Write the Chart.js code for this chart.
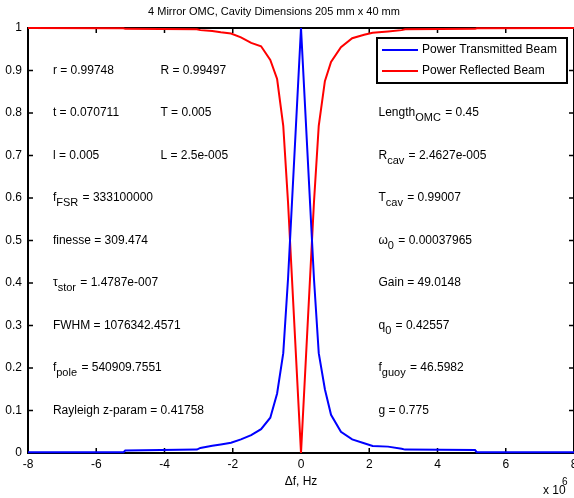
<!DOCTYPE html>
<html>
<head>
<meta charset="utf-8">
<script src="https://cdn.jsdelivr.net/npm/chart.js@4.4.0/dist/chart.umd.min.js"></script>
<style>
  html, body { margin: 0; padding: 0; background: #fff; }
</style>
</head>
<body>
<canvas id="omcChart" width="574" height="498"></canvas>
<script>
// frequency offset, units of 1e6 Hz
const freq = [-8, -5.2, -5.15, -3.05, -2.95, -2.6, -2.35, -2.05, -1.76, -1.46, -1.17, -0.9, -0.7, -0.52, -0.38, 0,
              0.38, 0.52, 0.7, 0.88, 1.17, 1.5, 1.85, 2.1, 2.55, 2.95, 3.05, 5.1, 5.15, 8];
const transmitted = [0.002, 0.002, 0.006, 0.008, 0.012, 0.017, 0.02, 0.024, 0.032, 0.042, 0.056, 0.083, 0.14, 0.235, 0.41, 1.0,
                     0.41, 0.235, 0.15, 0.09, 0.05, 0.032, 0.023, 0.0165, 0.015, 0.01, 0.008, 0.007, 0.002, 0.002];
const reflected = [1, 0.9995, 0.998, 0.997, 0.995, 0.993, 0.99, 0.987, 0.978, 0.965, 0.957, 0.925, 0.88, 0.77, 0.59, 0,
                   0.59, 0.77, 0.875, 0.92, 0.955, 0.976, 0.984, 0.989, 0.992, 0.995, 0.997, 0.998, 0.9995, 1];
const seriesNames = ['Power Transmitted Beam', 'Power Reflected Beam'];

const xTicks = [-8, -6, -4, -2, 0, 2, 4, 6, 8];
const yTicks = [0, 0.1, 0.2, 0.3, 0.4, 0.5, 0.6, 0.7, 0.8, 0.9, 1];

// text notes, _{..} is a subscript
const notesLeft = ['r = 0.99748', 't = 0.070711', 'l = 0.005', 'f_{FSR} = 333100000', 'finesse = 309.474',
                   '\u03c4_{stor} = 1.4787e-007', 'FWHM = 1076342.4571', 'f_{pole} = 540909.7551', 'Rayleigh z-param = 0.41758'];
const notesLeftY = [0.9, 0.8, 0.7, 0.6, 0.5, 0.4, 0.3, 0.2, 0.1];
const notesMid = ['R = 0.99497', 'T = 0.005', 'L = 2.5e-005'];
const notesMidY = [0.9, 0.8, 0.7];
const notesRight = ['Length_{OMC} = 0.45', 'R_{cav} = 2.4627e-005', 'T_{cav} = 0.99007', '\u03c9_{0} = 0.00037965',
                    'Gain = 49.0148', 'q_{0} = 0.42557', 'f_{guoy} = 46.5982', 'g = 0.775'];
const notesRightY = [0.8, 0.7, 0.6, 0.5, 0.4, 0.3, 0.2, 0.1];

const titleText = '4 Mirror OMC, Cavity Dimensions 205 mm x 40 mm';
const xLabel = '\u0394f, Hz';

const FONT = '"Liberation Sans", Arial, sans-serif';

function drawRich(ctx, str, x, y) {
  const parts = str.split(/(_\{[^}]*\})/);
  let cx = x;
  parts.forEach(p => {
    if (!p) return;
    if (p.startsWith('_{')) {
      const t = p.slice(2, -1);
      ctx.font = '11px ' + FONT;
      ctx.fillText(t, cx, y + 5);
      cx += ctx.measureText(t).width + 1;
    } else {
      ctx.font = '12px ' + FONT;
      ctx.fillText(p, cx, y);
      cx += ctx.measureText(p).width;
    }
  });
}

const framePlugin = {
  id: 'frame',
  beforeDatasetsDraw(chart) {
    const { ctx, chartArea: a, scales } = chart;
    ctx.save();
    ctx.strokeStyle = '#000';
    ctx.lineWidth = 2;
    ctx.strokeRect(a.left, a.top, a.right - a.left, a.bottom - a.top);
    ctx.lineWidth = 1.5;
    ctx.beginPath();
    xTicks.forEach(v => {
      const px = scales.x.getPixelForValue(v);
      ctx.moveTo(px, a.bottom); ctx.lineTo(px, a.bottom - 5);
      ctx.moveTo(px, a.top); ctx.lineTo(px, a.top + 5);
    });
    yTicks.forEach(v => {
      const py = scales.y.getPixelForValue(v);
      ctx.moveTo(a.left, py); ctx.lineTo(a.left + 5, py);
      ctx.moveTo(a.right, py); ctx.lineTo(a.right - 5, py);
    });
    ctx.stroke();
    ctx.restore();
  },
  afterDraw(chart) {
    const { ctx, scales } = chart;
    ctx.save();
    ctx.fillStyle = '#000';
    ctx.textBaseline = 'middle';
    ctx.textAlign = 'left';
    notesLeft.forEach((s, i) => drawRich(ctx, s, scales.x.getPixelForValue(-7.27), scales.y.getPixelForValue(notesLeftY[i])));
    notesMid.forEach((s, i) => drawRich(ctx, s, scales.x.getPixelForValue(-4.12), scales.y.getPixelForValue(notesMidY[i])));
    notesRight.forEach((s, i) => drawRich(ctx, s, scales.x.getPixelForValue(2.27), scales.y.getPixelForValue(notesRightY[i])));

    // legend box
    const lx = 377, ly = 38, lw = 190, lh = 45;
    ctx.fillStyle = '#fff';
    ctx.fillRect(lx, ly, lw, lh);
    ctx.strokeStyle = '#000';
    ctx.lineWidth = 2;
    ctx.strokeRect(lx, ly, lw, lh);
    chart.data.datasets.forEach((ds, i) => {
      const yy = ly + 12 + i * 21;
      ctx.strokeStyle = ds.borderColor;
      ctx.lineWidth = 2;
      ctx.beginPath();
      ctx.moveTo(lx + 5, yy); ctx.lineTo(lx + 41, yy);
      ctx.stroke();
      ctx.fillStyle = '#000';
      ctx.font = '12px ' + FONT;
      ctx.fillText(ds.label, lx + 45, yy);
    });

    // title and axis labels
    ctx.textAlign = 'center';
    ctx.font = '11px ' + FONT;
    ctx.fillText(titleText, 274, 12);
    ctx.font = '12px ' + FONT;
    ctx.fillText(xLabel, scales.x.getPixelForValue(0), 482);
    ctx.textAlign = 'left';
    ctx.fillText('x 10', 543, 491);
    ctx.font = '10px ' + FONT;
    ctx.fillText('6', 562, 482);
    ctx.restore();
  }
};

new Chart(document.getElementById('omcChart'), {
  type: 'line',
  data: {
    datasets: [{
      label: seriesNames[0],
      data: freq.map((f, i) => ({ x: f, y: transmitted[i] })),
      borderColor: 'rgb(0, 0, 255)',
      backgroundColor: 'rgb(0, 0, 255)',
      borderWidth: 2,
      pointRadius: 0,
      tension: 0,
      clip: false
    }, {
      label: seriesNames[1],
      data: freq.map((f, i) => ({ x: f, y: reflected[i] })),
      borderColor: 'rgb(255, 0, 0)',
      backgroundColor: 'rgb(255, 0, 0)',
      borderWidth: 2,
      pointRadius: 0,
      tension: 0,
      clip: false
    }]
  },
  plugins: [framePlugin],
  options: {
    responsive: false,
    animation: false,
    layout: { padding: { top: 28, right: -3, left: 0, bottom: 0 } },
    plugins: { legend: { display: false }, tooltip: { enabled: false }, title: { display: false } },
    scales: {
      x: {
        type: 'linear', min: -8, max: 8,
        afterBuildTicks: s => { s.ticks = xTicks.map(v => ({ value: v })); },
        ticks: { color: '#000', font: { family: FONT, size: 12 }, padding: 4, maxRotation: 0, autoSkip: false },
        grid: { display: false, drawTicks: false },
        border: { display: false },
        afterFit: s => { s.height = 45; s.paddingRight = 0; s.paddingLeft = 0; }
      },
      y: {
        type: 'linear', min: 0, max: 1,
        afterBuildTicks: s => { s.ticks = yTicks.map(v => ({ value: v })); },
        ticks: { color: '#000', font: { family: FONT, size: 12 }, padding: 6, callback: v => String(Number(v.toFixed(1))) },
        grid: { display: false, drawTicks: false },
        border: { display: false },
        afterFit: s => { s.width = 28; }
      }
    }
  }
});
</script>
</body>
</html>
